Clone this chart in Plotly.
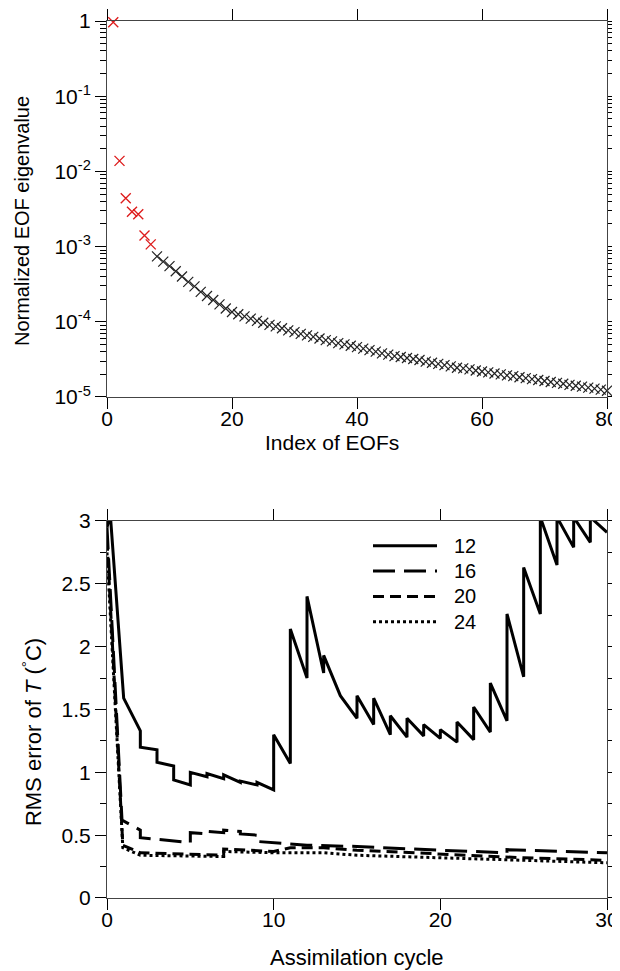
import plotly.graph_objects as go
from plotly.subplots import make_subplots

# EOF eigenvalues (normalized), index 1..80
eof_index = list(range(1, 81))
eof_value = [
    0.96, 0.0138, 0.0044, 0.0029, 0.0027, 0.0014, 0.00107, 7.4e-4, 6.3e-4, 5.5e-4,
    4.7e-4, 4.0e-4, 3.4e-4, 2.95e-4, 2.5e-4, 2.2e-4, 1.95e-4, 1.7e-4, 1.5e-4, 1.35e-4,
    1.26e-4, 1.18e-4, 1.1e-4, 1.03e-4, 9.7e-5, 9.1e-5, 8.7e-5, 8.2e-5, 7.7e-5, 7.3e-5,
    6.9e-5, 6.6e-5, 6.3e-5, 6.0e-5, 5.7e-5, 5.5e-5, 5.2e-5, 5.0e-5, 4.8e-5, 4.6e-5,
    4.4e-5, 4.2e-5, 4.0e-5, 3.8e-5, 3.65e-5, 3.5e-5, 3.4e-5, 3.3e-5, 3.2e-5, 3.1e-5,
    2.95e-5, 2.85e-5, 2.75e-5, 2.65e-5, 2.55e-5, 2.45e-5, 2.4e-5, 2.33e-5, 2.25e-5, 2.18e-5,
    2.12e-5, 2.05e-5, 2.0e-5, 1.94e-5, 1.89e-5, 1.83e-5, 1.78e-5, 1.73e-5, 1.68e-5, 1.63e-5,
    1.58e-5, 1.54e-5, 1.5e-5, 1.45e-5, 1.41e-5, 1.37e-5, 1.33e-5, 1.29e-5, 1.25e-5, 1.21e-5,
]
n_red = 7  # first EOFs drawn in red

eof_tickvals = [1, 1e-1, 1e-2, 1e-3, 1e-4, 1e-5]
eof_ticktext = ["1", "10<sup>-1</sup>", "10<sup>-2</sup>",
                "10<sup>-3</sup>", "10<sup>-4</sup>", "10<sup>-5</sup>"]

# RMS error of T for different numbers of EOFs (saw-tooth: repeated x = analysis jump)
cycle_12 = [0, 0.2, 1, 2, 2, 3, 3, 4, 4, 5, 5, 6, 6, 7, 7, 8, 8, 9, 9, 10, 10,
            11, 11, 12, 12, 13, 13, 14, 15, 15, 16, 16, 17, 17, 18, 18, 19, 19,
            20, 20, 21, 21, 22, 22, 23, 23, 24, 24, 25, 25, 26, 26, 27, 27,
            28, 28, 29, 29, 30]
rms_12 = [2.95, 3.05, 1.59, 1.33, 1.20, 1.18, 1.08, 1.05, 0.94, 0.90, 1.00,
          0.965, 0.99, 0.95, 0.98, 0.92, 0.93, 0.90, 0.92, 0.86, 1.30,
          1.07, 2.14, 1.75, 2.40, 1.79, 1.93, 1.61, 1.43, 1.61, 1.38, 1.59,
          1.30, 1.45, 1.28, 1.43, 1.29, 1.38, 1.27, 1.34, 1.24, 1.40,
          1.26, 1.52, 1.32, 1.71, 1.41, 2.26, 1.76, 2.63, 2.26, 3.03,
          2.65, 3.03, 2.79, 3.03, 2.83, 3.03, 2.91]

cycle_16 = [0, 0.9, 2, 2, 5, 5, 6, 6, 7, 7, 8, 8, 9, 9, 12, 15, 20, 24, 24, 30]
rms_16 = [2.95, 0.62, 0.54, 0.48, 0.44, 0.52, 0.51, 0.53, 0.52, 0.54, 0.53, 0.51,
          0.50, 0.45, 0.42, 0.41, 0.38, 0.36, 0.385, 0.36]

cycle_20 = [0, 0.95, 2, 6, 7, 7, 10, 11, 13, 15, 20, 25, 30]
rms_20 = [2.85, 0.42, 0.36, 0.34, 0.34, 0.39, 0.37, 0.40, 0.40, 0.38, 0.35, 0.32, 0.30]

cycle_24 = [0, 0.95, 2, 6, 7, 7, 10, 13, 15, 20, 25, 30]
rms_24 = [2.75, 0.40, 0.34, 0.33, 0.33, 0.37, 0.36, 0.36, 0.34, 0.32, 0.30, 0.28]

series_names = ["12", "16", "20", "24"]
series_x = [cycle_12, cycle_16, cycle_20, cycle_24]
series_y = [rms_12, rms_16, rms_20, rms_24]
series_dash = ["solid", "22px,9px", "11px,6px", "3px,3px"]

font = "Liberation Sans, Arial, sans-serif"

fig = make_subplots(rows=2, cols=1)

fig.add_trace(go.Scatter(
    x=eof_index[n_red:], y=eof_value[n_red:], mode="markers",
    marker=dict(symbol="x-thin-open", size=10, color="#222",
                line=dict(width=1.2, color="#222")),
    showlegend=False, cliponaxis=False), row=1, col=1)
fig.add_trace(go.Scatter(
    x=eof_index[:n_red], y=eof_value[:n_red], mode="markers",
    marker=dict(symbol="x-thin-open", size=10, color="#dd1c1c",
                line=dict(width=1.4, color="#dd1c1c")),
    showlegend=False, cliponaxis=False), row=1, col=1)

for name, xs, ys, dash in zip(series_names, series_x, series_y, series_dash):
    fig.add_trace(go.Scatter(x=xs, y=ys, mode="lines", name=name, showlegend=False,
                             line=dict(color="black", width=3, dash=dash)),
                  row=2, col=1)

# legend drawn by hand so the line samples are as long as in the original
for i, (name, dash) in enumerate(zip(series_names, series_dash)):
    ly = 0.934 - i * 0.067
    fig.add_shape(type="line", xref="x2 domain", yref="y2 domain",
                  x0=0.532, x1=0.66, y0=ly, y1=ly,
                  line=dict(color="black", width=3, dash=dash))
    fig.add_annotation(text=name, xref="x2 domain", yref="y2 domain",
                       x=0.69, y=ly, xanchor="left", yanchor="middle",
                       showarrow=False, font=dict(family=font, size=20, color="black"))

# axis titles placed as annotations (the original ones are not centred on the axes)
def axis_title(text, xref, yref, x, y, size, angle=0):
    fig.add_annotation(text=text, xref=xref, yref=yref, x=x, y=y,
                       xanchor="center", yanchor="middle", textangle=angle,
                       showarrow=False, font=dict(family=font, size=size, color="black"))

axis_title("Index of EOFs", "x domain", "y domain", 0.449, -0.121, 21)
axis_title("Normalized EOF eigenvalue", "x domain", "y domain", -0.17, 0.468, 20, -90)
axis_title("Assimilation cycle", "x2 domain", "y2 domain", 0.5, -0.157, 22)
axis_title("RMS error of <i>T</i> (<sup>°</sup>C)", "x2 domain", "y2 domain",
           -0.15, 0.44, 22, -90)

axis_common = dict(showline=True, linecolor="#444", linewidth=1, mirror="ticks",
                   ticks="outside", tickcolor="black", tickwidth=1.2, ticklen=11,
                   showgrid=False, zeroline=False, automargin=False,
                   ticklabeloverflow="allow",
                   tickfont=dict(family=font, size=21, color="black"))

fig.update_xaxes(axis_common)
fig.update_yaxes(axis_common)
fig.update_xaxes(ticklabelstandoff=-8)

fig.update_xaxes(range=[0, 80], tickvals=[0, 20, 40, 60, 80], row=1, col=1)
fig.update_yaxes(type="log", range=[-5, 0], tickvals=eof_tickvals,
                 ticktext=eof_ticktext, domain=[0.5713, 1.0],
                 minor=dict(ticks="outside", ticklen=6, tickcolor="black",
                            dtick="D1", showgrid=False),
                 row=1, col=1)

fig.update_xaxes(range=[0, 30], dtick=10, row=2, col=1)
fig.update_yaxes(range=[0, 3], dtick=0.5, domain=[0.0, 0.4299],
                 minor=dict(ticks="outside", ticklen=6, tickcolor="black",
                            dtick=0.25, showgrid=False),
                 row=2, col=1)

# the page puts the plot 8 px in from the corner, so size/margins allow for that
fig.update_layout(
    width=612, height=963,
    margin=dict(l=99, r=13, t=13, b=73),
    plot_bgcolor="white", paper_bgcolor="white",
    font=dict(family=font, size=20, color="black"),
    showlegend=False,
)

fig.write_html("out.html")
